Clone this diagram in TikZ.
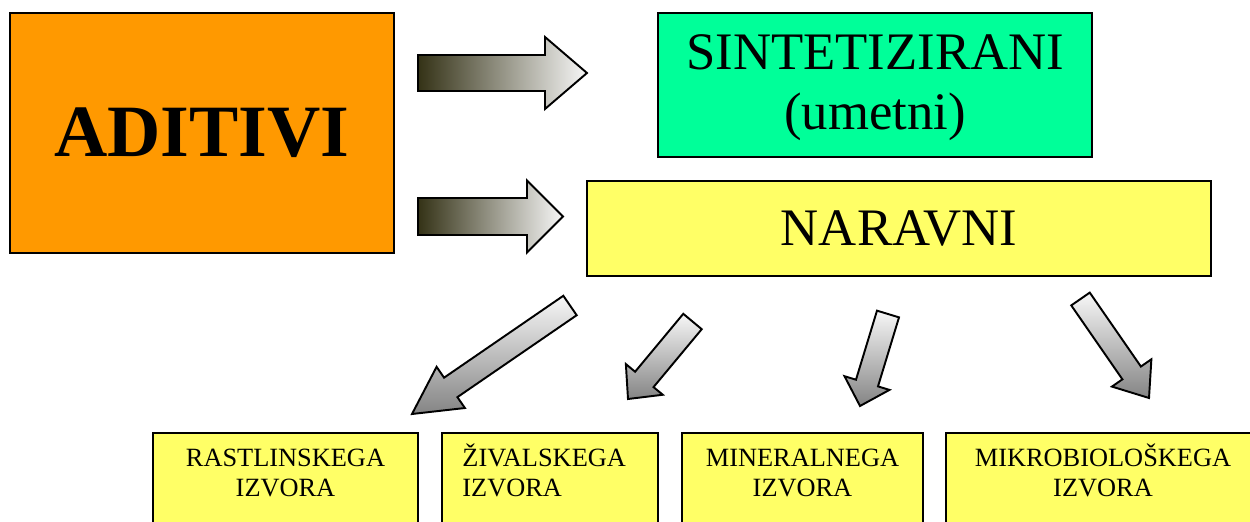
\documentclass[tikz,border=0pt]{standalone}
\usepackage{fontspec}
\setmainfont{Liberation Serif}
\usetikzlibrary{calc,positioning}

\definecolor{aditivorange}{RGB}{255,153,0}
\definecolor{sintgreen}{RGB}{0,255,153}
\definecolor{naravyellow}{RGB}{255,255,102}
\definecolor{arrowdark}{RGB}{52,50,22}
\definecolor{arrowlight}{RGB}{247,247,247}
\definecolor{arrowgray}{RGB}{132,132,132}

\tikzset{
  box/.style={draw=black, line width=1.1pt, inner sep=0pt, align=center},
  srcbox/.style={box, fill=naravyellow, minimum height=2.54cm},
  srctext/.style={inner sep=0pt, align=center, font=\fontsize{15}{17.6}\selectfont},
  hshade/.style={left color=arrowdark, right color=arrowlight},
  dshade/.style={top color=arrowlight, bottom color=arrowgray},
}

% fat arrow: [shading] tail, tip, half shaft width, half head width, head length
\newcommand{\blockarrow}[6][]{%
  \coordinate (arrow base) at ($(#3)!#6!(#2)$);
  \shadedraw[line width=1.1pt, #1]
    ($(#2)!#4!90:(#3)$) -- ($(arrow base)!#4!90:(#3)$)
    -- ($(arrow base)!#5!90:(#3)$) -- (#3)
    -- ($(arrow base)!#5!-90:(#3)$) -- ($(arrow base)!#4!-90:(#3)$)
    -- ($(#2)!#4!-90:(#3)$) -- cycle;
}

\begin{document}
\begin{tikzpicture}[x=0.02cm, y=-0.02cm]
\useasboundingbox (0,0) rectangle (1250,521);
\clip (0,0) rectangle (1250,521);

% main boxes
\node[box, fill=aditivorange, minimum width=7.68cm, minimum height=4.8cm,
  font=\fontsize{42}{48}\selectfont\bfseries] (aditivi) at (202,133) {ADITIVI};
\node[box, fill=sintgreen, minimum width=8.68cm, minimum height=2.88cm,
  font=\fontsize{30}{34}\selectfont] (sint) at (875,85) {};
\node[font=\fontsize{30}{34}\selectfont, align=center, inner sep=0pt]
  (sinttext) at ($(sint)+(0,3)$) {SINTETIZIRANI\\(umetni)};
\node[box, fill=naravyellow, minimum width=12.48cm, minimum height=1.9cm,
  font=\fontsize{30}{34}\selectfont] (narav) at (899,228.5) {NARAVNI};

% sources
\node[srcbox, minimum width=5.3cm] (rast) at (285.5,496.5) {};
\node[srcbox, minimum width=4.32cm] (ziv) at (550,496.5) {};
\node[srcbox, minimum width=4.82cm] (mineral) at (802.5,496.5) {};
\node[srcbox, minimum width=6.28cm] (mikro) at (1103,496.5) {};

\node[srctext, below=0.22cm of rast.north] (rasttext) {\vphantom{Ž}RASTLINSKEGA\\IZVORA};
\node[srctext, align=left, below right=0.22cm and 0.42cm of ziv.north west] (zivtext) {\vphantom{Ž}ŽIVALSKEGA\\IZVORA};
\node[srctext, below=0.22cm of mineral.north] (mineraltext) {\vphantom{Ž}MINERALNEGA\\IZVORA};
\node[srctext, below=0.22cm of mikro.north] (mikrotext) {\vphantom{Ž}MIKROBIOLOŠKEGA\\IZVORA};

% arrows
\coordinate (sint tail) at (418,73);
\coordinate (sint tip) at (587,73);
\coordinate (narav tail) at (418,216.5);
\coordinate (narav tip) at (563,216.5);
\coordinate (rast tail) at (570,305.5);
\coordinate (rast tip) at (412,414);
\coordinate (ziv tail) at (692.5,321.5);
\coordinate (ziv tip) at (628,399);
\coordinate (mineral tail) at (888,314);
\coordinate (mineral tip) at (860,406);
\coordinate (mikro tail) at (1080.5,299);
\coordinate (mikro tip) at (1149,398);

\blockarrow[hshade]{sint tail}{sint tip}{0.36cm}{0.72cm}{0.84cm}
\blockarrow[hshade]{narav tail}{narav tip}{0.37cm}{0.72cm}{0.72cm}
\blockarrow[dshade]{rast tail}{rast tip}{0.236cm}{0.5cm}{0.94cm}
\blockarrow[dshade]{ziv tail}{ziv tip}{0.24cm}{0.48cm}{0.51cm}
\blockarrow[dshade]{mineral tail}{mineral tip}{0.23cm}{0.47cm}{0.48cm}
\blockarrow[dshade]{mikro tail}{mikro tip}{0.225cm}{0.48cm}{0.61cm}
\end{tikzpicture}
\end{document}
